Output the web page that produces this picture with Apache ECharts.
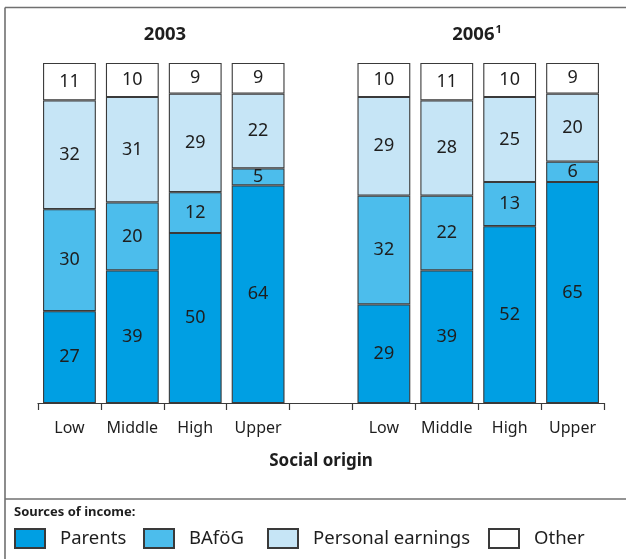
<!DOCTYPE html>
<html>
<head>
<meta charset="utf-8">
<script src="https://cdn.jsdelivr.net/npm/echarts@6/dist/echarts.min.js"></script>
<style>
  html, body { margin: 0; padding: 0; background: #fff; }
  #chart { width: 626px; height: 559px; }
</style>
</head>
<body>
<div id="chart"></div>
<script>
// Social origin groups; the empty slot separates the two survey years
const categories = ['Low', 'Middle', 'High', 'Upper', '', 'Low', 'Middle', 'High', 'Upper'];
const yearTitles = ['2003', '2006'];

// Share of income (%) by source, per social origin group
const parents  = [27, 39, 50, 64, '-', 29, 39, 52, 65];
const bafoeg   = [30, 20, 12,  5, '-', 32, 22, 13,  6];
const earnings = [32, 31, 29, 22, '-', 29, 28, 25, 20];
const other    = [11, 10,  9,  9, '-', 10, 11, 10,  9];

const seriesNames  = ['Parents', 'BAföG', 'Personal earnings', 'Other'];
const seriesData   = [parents, bafoeg, earnings, other];
const seriesColors = ['#009fe3', '#4cbdec', '#c6e5f6', '#ffffff'];

const FONT = '"Noto Sans", "Open Sans", sans-serif';
const EDGE = '#3a3a3a';
const FRAME = '#707070';

const chart = echarts.init(document.getElementById('chart'), null, { renderer: 'canvas' });

const series = seriesNames.map((name, i) => ({
  name,
  type: 'bar',
  stack: 'share',
  data: seriesData[i],
  barCategoryGap: '16%',
  itemStyle: { color: seriesColors[i], borderColor: EDGE, borderWidth: 1.1 },
  label: {
    show: true,
    position: 'inside',
    color: '#1e1e1e',
    fontFamily: FONT,
    fontSize: 18
  },
  emphasis: { disabled: true }
}));

// One legend per entry so each swatch sits at its own spot
const legendLefts = [14, 143, 267, 488];
const legends = seriesNames.map((name, i) => ({
  data: [name],
  left: legendLefts[i],
  top: 528,
  padding: 0,
  orient: 'horizontal',
  icon: 'rect',
  itemWidth: 30,
  itemHeight: 19,
  itemGap: 0,
  selectedMode: false,
  textStyle: { fontFamily: FONT, fontSize: 18.5, color: '#1e1e1e', padding: [0, 0, 0, 10] }
}));

chart.setOption({
  animation: false,
  grid: { left: 38, right: 22, top: 63, bottom: 156 },
  xAxis: {
    type: 'category',
    data: categories,
    axisLine: { show: true, lineStyle: { color: EDGE, width: 1.2 } },
    axisTick: { show: true, interval: 0, inside: false, length: 7, lineStyle: { color: EDGE, width: 1.2 } },
    axisLabel: { interval: 0, fontFamily: FONT, fontSize: 16, color: '#1e1e1e', margin: 17 },
    name: 'Social origin',
    nameLocation: 'middle',
    nameGap: 50,
    nameTextStyle: { fontFamily: FONT, fontSize: 17, fontWeight: 'bold', color: '#1e1e1e' }
  },
  yAxis: { type: 'value', min: 0, max: 100, show: false },
  legend: legends,
  series,
  graphic: [
    { type: 'line', shape: { x1: 5, y1: 7.5, x2: 626, y2: 7.5 }, style: { stroke: FRAME, lineWidth: 1.6 } },
    { type: 'line', shape: { x1: 5, y1: 7.5, x2: 5, y2: 559 }, style: { stroke: FRAME, lineWidth: 1.6 } },
    { type: 'line', shape: { x1: 5, y1: 499, x2: 626, y2: 499 }, style: { stroke: FRAME, lineWidth: 1.6 } },
    {
      type: 'text', x: 165, y: 35,
      style: { text: yearTitles[0], fontFamily: FONT, fontSize: 18.5, fontWeight: 'bold', fill: '#1e1e1e', align: 'center', verticalAlign: 'middle' }
    },
    {
      type: 'text', x: 477, y: 35,
      style: {
        text: '{y|' + yearTitles[1] + '}{s|1}',
        align: 'center', verticalAlign: 'middle',
        rich: {
          y: { fontFamily: FONT, fontSize: 18.5, fontWeight: 'bold', fill: '#1e1e1e' },
          s: { fontFamily: FONT, fontSize: 11, fontWeight: 'bold', fill: '#1e1e1e', verticalAlign: 'top', padding: [0, 0, 10, 1] }
        }
      }
    },
    {
      type: 'text', x: 14, y: 512,
      style: { text: 'Sources of income:', fontFamily: FONT, fontSize: 13, fontWeight: 'bold', fill: '#1e1e1e', verticalAlign: 'middle' }
    }
  ]
});
</script>
</body>
</html>
